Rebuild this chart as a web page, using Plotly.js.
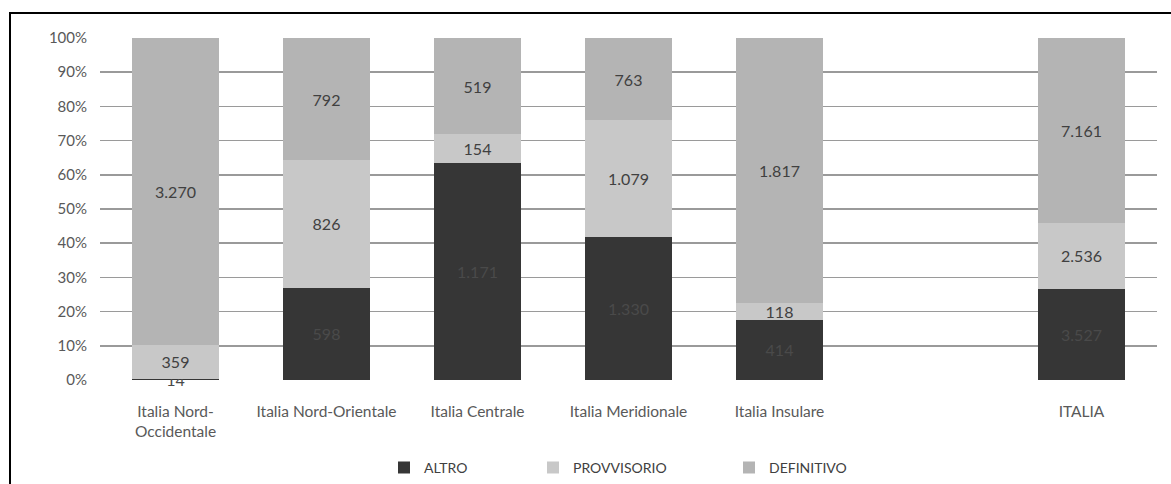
<!DOCTYPE html>
<html>
<head>
<meta charset="utf-8">
<script src="https://cdn.plot.ly/plotly-3.0.1.min.js"></script>
<style>
  html, body { margin: 0; padding: 0; background: #fff; overflow: hidden; }
  #wrap { position: relative; width: 1171px; height: 484px; }
  #chart { width: 1171px; height: 484px; }
  #frame {
    position: absolute; left: 9px; top: 12px; width: 1300px; height: 600px;
    border-left: 2px solid #000; border-top: 2px solid #000; pointer-events: none;
  }
</style>
</head>
<body>
<div id="wrap"><div id="chart"></div><div id="frame"></div></div>
<script>
// Macro-areas (blank slot separates the regional bars from the national total)
const categories = ['Italia Nord-<br>Occidentale', 'Italia Nord-Orientale', 'Italia Centrale',
                    'Italia Meridionale', 'Italia Insulare', ' ', 'ITALIA'];
const altro       = [14, 598, 1171, 1330, 414, null, 3527];
const provvisorio = [359, 826, 154, 1079, 118, null, 2536];
const definitivo  = [3270, 792, 519, 763, 1817, null, 7161];
const yTicks = [0, 10, 20, 30, 40, 50, 60, 70, 80, 90, 100];

// Italian thousands separator: 3270 -> "3.270"
const fmt = v => v == null ? '' : String(v).replace(/\B(?=(\d{3})+(?!\d))/g, '.');

const FONT = 'Lato, "Open Sans", sans-serif';
const PLOT_L = 100, PLOT_W = 1057;
const px2paper = p => (p - PLOT_L) / PLOT_W;

function barTrace(name, values, color, textColor, legendId) {
  return {
    type: 'bar',
    name: name,
    x: categories,
    y: values,
    text: values.map(fmt),
    textposition: 'inside',
    insidetextanchor: 'middle',
    textangle: 0,
    constraintext: 'none',
    cliponaxis: false,
    textfont: { family: FONT, size: 16, color: textColor },
    marker: { color: color, line: { width: 0 } },
    legend: legendId,
    hoverinfo: 'x+name+text'
  };
}

const traces = [
  barTrace('ALTRO', altro, '#363636', '#4a4a4a', 'legend'),
  barTrace('PROVVISORIO', provvisorio, '#c8c8c8', '#404040', 'legend2'),
  barTrace('DEFINITIVO', definitivo, '#b4b4b4', '#404040', 'legend3')
];

function legendAt(px) {
  return {
    orientation: 'h', x: px2paper(px), xanchor: 'left',
    y: -0.257, yanchor: 'middle',
    bgcolor: 'rgba(0,0,0,0)', borderwidth: 0,
    font: { family: FONT, size: 14, color: '#404040' }
  };
}

const layout = {
  width: 1171, height: 484,
  margin: { l: PLOT_L, r: 14, t: 38, b: 104, autoexpand: false },
  paper_bgcolor: '#fff', plot_bgcolor: '#fff',
  font: { family: FONT, size: 15, color: '#595959' },
  barmode: 'stack',
  barnorm: 'percent',
  bargap: 0.42,
  showlegend: true,
  legend: legendAt(384),
  legend2: legendAt(533),
  legend3: legendAt(729),
  xaxis: {
    type: 'category', automargin: false,
    categoryorder: 'array', categoryarray: categories,
    showgrid: false, showline: false, zeroline: false, ticks: '',
    ticklabelstandoff: 20,
    tickfont: { family: FONT, size: 15.5, color: '#595959' }
  },
  yaxis: {
    range: [0, 100], tickvals: yTicks, ticktext: yTicks.map(v => v + '%'),
    automargin: false,
    showgrid: true, gridcolor: '#9a9a9a', gridwidth: 1.5,
    zeroline: false, showline: false, ticks: '',
    ticklabelstandoff: 12,
    tickfont: { family: FONT, size: 15, color: '#595959' }
  }
};

Plotly.newPlot('chart', traces, layout, { displayModeBar: false, staticPlot: true });
</script>
</body>
</html>
